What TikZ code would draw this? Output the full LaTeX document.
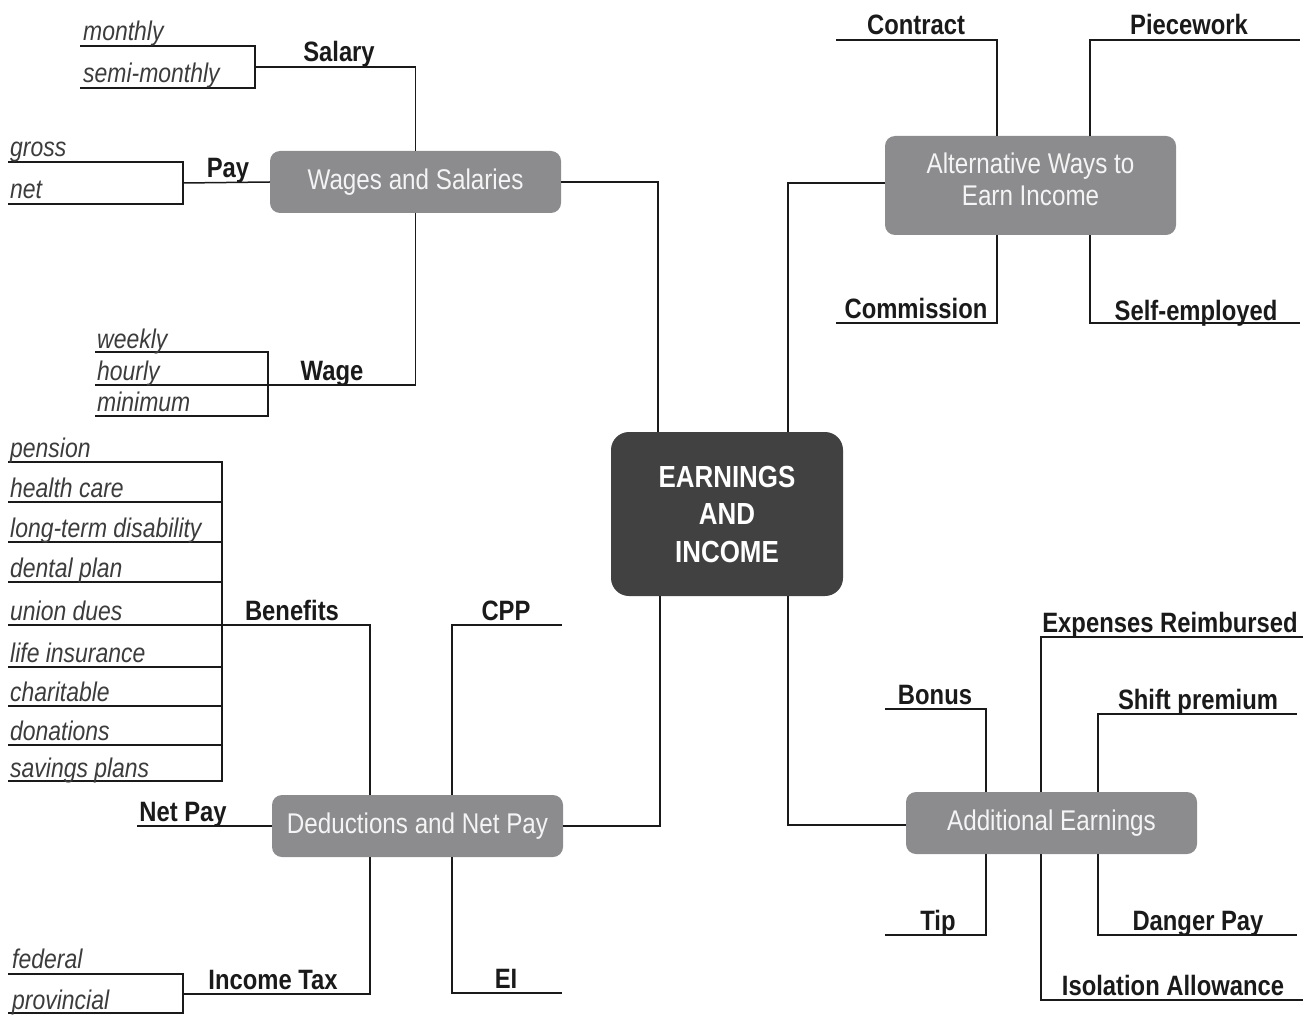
\documentclass[tikz,border=0pt]{standalone}
\usepackage{fontspec}
\setmainfont{Liberation Sans}[FakeStretch=0.85]
\definecolor{darkbox}{HTML}{414141}
\definecolor{greybox}{HTML}{8C8C8E}
\definecolor{boxtext}{HTML}{F4F4F4}
\definecolor{inkc}{HTML}{1A1A1A}
\begin{document}
\begin{tikzpicture}[x=1pt,y=-1pt,
  ln/.style={draw=inkc,line width=1.5pt},
  mainbox/.style={fill=darkbox,rounded corners=18pt,minimum width=232pt,minimum height=164pt,text=white,align=center,font=\fontsize{30.5}{37.5}\selectfont\bfseries,inner sep=0pt},
  topicbox/.style={fill=greybox,rounded corners=10pt,minimum width=291pt,text=boxtext,align=center,font=\fontsize{28.5}{32}\selectfont,inner sep=0pt},
  topictext/.style={text=boxtext,align=center,font=\fontsize{28.5}{32}\selectfont,inner sep=0pt},
  blabel/.style={anchor=base,text=inkc,font=\fontsize{28}{30}\selectfont\bfseries,inner sep=0pt},
  ilabel/.style={anchor=base west,text=inkc!85,font=\fontsize{27}{30}\selectfont\itshape,inner sep=0pt}
]
\useasboundingbox (0,0) rectangle (1308,1016);

% ---------- boxes ----------
\node[mainbox] (center) at (727,514) {EARNINGS\\AND\\INCOME};
\node[topicbox,minimum height=62pt] (ws) at (415.5,182) {Wages and Salaries};
\node[topicbox,minimum height=99pt] (alt) at (1030.5,185.5) {};
\node[topictext] (alttext) at (1030.5,179) {Alternative Ways to\\Earn Income};
\node[topicbox,minimum height=62pt] (ded) at (417.5,826) {Deductions and Net Pay};
\node[topicbox,minimum height=62pt] (add) at (1051.5,823) {Additional Earnings};

% ---------- main connectors ----------
\draw[ln] (ws.east) -| ([xshift=-69pt]center.north);
\draw[ln] ([yshift=2.5pt]alt.west) -| ([xshift=61pt]center.north);
\draw[ln] (ded.east) -| ([xshift=-67pt]center.south);
\draw[ln] ([yshift=-2pt]add.west) -| ([xshift=61pt]center.south);

% ---------- Wages and Salaries ----------
\coordinate (salJ) at (255,67);
\coordinate (m0) at (80,46);  \coordinate (m1) at (255,46);
\coordinate (s0) at (80,88);  \coordinate (s1) at (255,88);
\draw[ln] (ws.north) |- (salJ);
\draw[ln] (m0) -- (m1) -- (s1) -- (s0);
\node[blabel] (lsal) at (339,62) {Salary};
\node[ilabel] (lmon) at (83,41) {monthly};
\node[ilabel] (lsemi) at (83,83) {semi-monthly};

\coordinate (payJ) at (183,183);
\coordinate (g0) at (8,162);  \coordinate (g1) at (183,162);
\coordinate (n0) at (8,204);  \coordinate (n1) at (183,204);
\draw[ln] (ws.west) -- (payJ);
\draw[ln] (g0) -- (g1) -- (n1) -- (n0);
\node[blabel] (lpay) at (228,178) {Pay};
\node[ilabel] (lgross) at (10,157) {gross};
\node[ilabel] (lnet) at (10,199) {net};

\coordinate (wgJ) at (95,385);
\coordinate (w0) at (95,352); \coordinate (w1) at (268,352);
\coordinate (mi0) at (95,416); \coordinate (mi1) at (268,416);
\draw[ln] (ws.south) |- (wgJ);
\draw[ln] (w0) -- (w1) -- (mi1) -- (mi0);
\node[blabel] (lwage) at (332,380) {Wage};
\node[ilabel] (lweek) at (97,348) {weekly};
\node[ilabel] (lhour) at (97,380) {hourly};
\node[ilabel] (lmin) at (97,411) {minimum};

% ---------- Alternative Ways ----------
\coordinate (ct0) at (836,40);
\coordinate (pw0) at (1300,40);
\coordinate (cm0) at (836,323);
\coordinate (se0) at (1300,323);
\draw[ln] ([xshift=-33.5pt]alt.north) |- (ct0);
\draw[ln] ([xshift=59.5pt]alt.north) |- (pw0);
\draw[ln] ([xshift=-33.5pt]alt.south) |- (cm0);
\draw[ln] ([xshift=59.5pt]alt.south) |- (se0);
\node[blabel] (lcon) at (916,35) {Contract};
\node[blabel] (lpiece) at (1189,35) {Piecework};
\node[blabel] (lcom) at (916,318) {Commission};
\node[blabel] (lself) at (1196,320) {Self-employed};

% ---------- Deductions and Net Pay ----------
\coordinate (ben0) at (8,625);
\coordinate (bt0) at (8,462); \coordinate (bt1) at (222,462);
\coordinate (bb0) at (8,781); \coordinate (bb1) at (222,781);
\draw[ln] ([xshift=-47.5pt]ded.north) |- (ben0);
\draw[ln] (bt0) -- (bt1) -- (bb1) -- (bb0);
\foreach \yy in {502,542,582,667,706,745} \draw[ln] (8,\yy) -- (222,\yy);
\node[blabel] (lben) at (292,620) {Benefits};
\node[ilabel] (lpen) at (10,457) {pension};
\node[ilabel] (lhc) at (10,497) {health care};
\node[ilabel] (lltd) at (10,537) {long-term disability};
\node[ilabel] (ldent) at (10,577) {dental plan};
\node[ilabel] (lunion) at (10,620) {union dues};
\node[ilabel] (llife) at (10,662) {life insurance};
\node[ilabel] (lchar) at (10,701) {charitable};
\node[ilabel] (ldon) at (10,740) {donations};
\node[ilabel] (lsav) at (10,777) {savings plans};

\coordinate (cpp0) at (562,625);
\draw[ln] ([xshift=34.5pt]ded.north) |- (cpp0);
\node[blabel] (lcpp) at (506,620) {CPP};

\coordinate (np0) at (137,826);
\draw[ln] (ded.west) -- (np0);
\node[blabel] (lnp) at (183,821) {Net Pay};

\coordinate (it0) at (183,994);
\coordinate (f0) at (8,974); \coordinate (f1) at (183,974);
\coordinate (p0) at (8,1013); \coordinate (p1) at (183,1013);
\draw[ln] ([xshift=-47.5pt]ded.south) |- (it0);
\draw[ln] (f0) -- (f1) -- (p1) -- (p0);
\node[blabel] (lit) at (273,989) {Income Tax};
\node[ilabel] (lfed) at (12,968) {federal};
\node[ilabel] (lprov) at (12,1009) {provincial};

\coordinate (ei0) at (562,993);
\draw[ln] ([xshift=34.5pt]ded.south) |- (ei0);
\node[blabel] (lei) at (506,988) {EI};

% ---------- Additional Earnings ----------
\coordinate (bo0) at (885,709);
\coordinate (ex0) at (1303,637);
\coordinate (sh0) at (1297,714);
\coordinate (ti0) at (885,935);
\coordinate (dp0) at (1297,935);
\coordinate (is0) at (1303,1000);
\draw[ln] ([xshift=-65.5pt]add.north) |- (bo0);
\draw[ln] ([xshift=-10.5pt]add.north) |- (ex0);
\draw[ln] ([xshift=46.5pt]add.north) |- (sh0);
\draw[ln] ([xshift=-65.5pt]add.south) |- (ti0);
\draw[ln] ([xshift=46.5pt]add.south) |- (dp0);
\draw[ln] ([xshift=-10.5pt]add.south) |- (is0);
\node[blabel] (lbonus) at (935,704) {Bonus};
\node[blabel] (lexp) at (1170,632) {Expenses Reimbursed};
\node[blabel] (lshift) at (1198,709) {Shift premium};
\node[blabel] (ltip) at (938,930) {Tip};
\node[blabel] (ldanger) at (1198,930) {Danger Pay};
\node[blabel] (liso) at (1173,995) {Isolation Allowance};
\end{tikzpicture}
\end{document}
